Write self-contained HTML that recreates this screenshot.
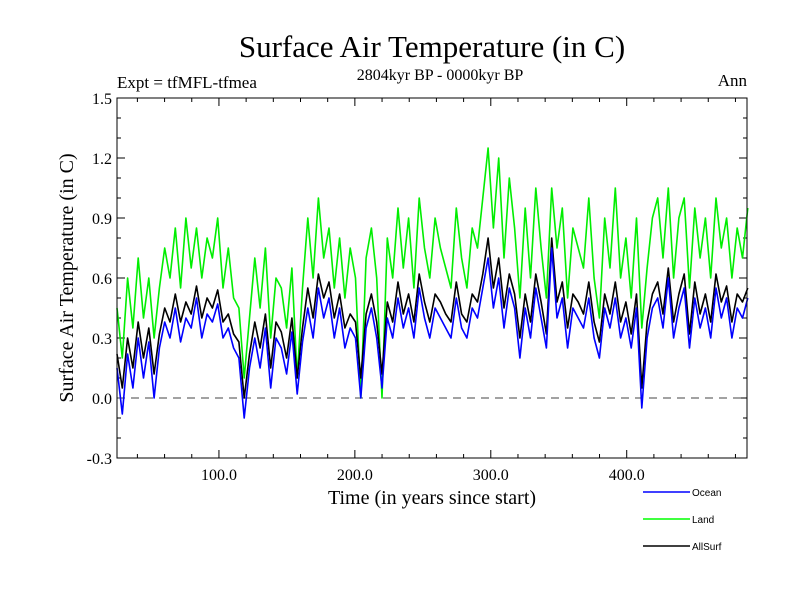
<!DOCTYPE html>
<html><head><meta charset="utf-8"><style>
body{margin:0;background:#fff}
svg text{font-family:"Liberation Serif",serif}
</style></head><body>
<svg width="800" height="600">
<text x="432" y="57" font-size="31" text-anchor="middle">Surface Air Temperature (in C)</text>
<text x="440" y="80" font-size="16" text-anchor="middle">2804kyr BP - 0000kyr BP</text>
<text x="117" y="88" font-size="17">Expt = tfMFL-tfmea</text>
<text x="747" y="86" font-size="17" text-anchor="end">Ann</text>
<text transform="translate(73,278) rotate(-90)" font-size="20" text-anchor="middle">Surface Air Temperature (in C)</text>
<text x="432" y="504" font-size="20" text-anchor="middle">Time (in years since start)</text>
<g id="ticks"></g>
<g id="series"></g>
<rect x="117" y="98" width="630" height="360" fill="none" stroke="#000" stroke-width="1"/>
<g font-family="Liberation Sans" font-size="10">
<line x1="643" y1="492" x2="690" y2="492" stroke="#0000ff" stroke-width="1.5"/>
<text x="692" y="496" style="font-family:'Liberation Sans',sans-serif" font-size="10">Ocean</text>
<line x1="643" y1="519" x2="690" y2="519" stroke="#00ff00" stroke-width="1.5"/>
<text x="692" y="523" style="font-family:'Liberation Sans',sans-serif" font-size="10">Land</text>
<line x1="643" y1="546" x2="690" y2="546" stroke="#000" stroke-width="1.5"/>
<text x="692" y="550" style="font-family:'Liberation Sans',sans-serif" font-size="10">AllSurf</text>
</g>
</svg>
<script>
const yTicks=[-0.3,0.0,0.3,0.6,0.9,1.2,1.5];
const yTickLabels=["-0.3","0.0","0.3","0.6","0.9","1.2","1.5"];
const xTicks=[100,200,300,400];
const xTickLabels=["100.0","200.0","300.0","400.0"];
const startYear=25, yearStep=3.9;
const ocean=[0.15,-0.08,0.22,0.05,0.3,0.1,0.28,0.0,0.25,
0.38,0.3,0.45,0.28,0.4,0.35,0.5,0.3,0.42,0.38,0.47,0.3,0.35,0.25,
0.2,-0.1,0.15,
0.3,0.15,0.35,0.05,0.3,0.25,0.12,0.33,0.02,0.28,
0.45,0.3,0.55,0.4,0.5,0.3,0.45,0.25,0.35,0.3,
0.0,0.35,0.45,0.3,0.05,
0.4,0.3,0.5,0.35,0.45,0.3,0.55,0.4,0.3,0.45,0.4,0.35,0.3,0.5,0.35,0.3,0.45,0.4,
0.55,0.7,0.45,0.6,
0.35,0.55,0.45,0.2,0.45,0.3,0.55,0.4,0.25,
0.75,
0.4,0.5,0.25,0.45,0.4,0.35,0.5,0.3,0.2,0.45,0.35,0.5,0.3,0.4,0.25,0.45,
-0.05,
0.3,0.45,0.5,0.35,0.6,0.3,0.45,0.55,0.25,0.5,0.35,0.45,0.3,0.55,0.4,0.5,0.3,0.45,0.4,0.5];
const land=[0.45,0.2,0.6,0.35,0.7,0.4,0.6,0.3,0.55,
0.75,0.6,0.85,0.55,0.9,0.65,0.85,0.6,0.8,0.7,0.9,0.55,0.75,0.5,
0.45,0.1,0.4,
0.7,0.45,0.75,0.3,0.6,0.55,0.35,0.65,0.1,0.55,
0.9,0.6,1.0,0.7,0.85,0.55,0.8,0.5,0.75,0.6,
0.0,0.7,0.85,0.6,0.0,
0.8,0.6,0.95,0.65,0.9,0.55,1.0,0.75,0.6,0.9,0.75,0.65,0.55,0.95,0.7,0.55,0.85,0.75,
1.0,1.25,0.85,1.2,
0.7,1.1,0.85,0.5,0.95,0.6,1.05,0.75,0.5,
1.05,
0.75,0.95,0.5,0.85,0.75,0.65,1.0,0.6,0.4,0.9,0.65,1.05,0.6,0.8,0.5,0.9,
0.35,
0.65,0.9,1.0,0.7,1.05,0.6,0.9,1.0,0.55,0.95,0.7,0.9,0.6,1.0,0.75,0.9,0.6,0.85,0.7,0.95];
const allSurf=[0.22,0.05,0.3,0.15,0.38,0.2,0.35,0.12,0.32,
0.45,0.38,0.52,0.38,0.48,0.42,0.56,0.4,0.5,0.45,0.54,0.38,0.42,0.32,
0.28,0.0,0.22,
0.38,0.25,0.42,0.15,0.38,0.33,0.2,0.4,0.1,0.35,
0.55,0.4,0.62,0.5,0.58,0.4,0.52,0.35,0.42,0.38,
0.1,0.42,0.52,0.38,0.12,
0.48,0.38,0.58,0.42,0.52,0.38,0.62,0.48,0.38,0.52,0.48,0.42,0.38,0.58,0.42,0.38,0.52,0.48,
0.62,0.8,0.55,0.7,
0.45,0.62,0.52,0.3,0.52,0.38,0.62,0.48,0.32,
0.8,
0.48,0.58,0.35,0.52,0.48,0.42,0.58,0.38,0.28,0.52,0.42,0.58,0.38,0.48,0.32,0.52,
0.05,
0.38,0.52,0.58,0.42,0.65,0.38,0.52,0.62,0.32,0.58,0.42,0.52,0.38,0.62,0.48,0.56,0.38,0.52,0.48,0.55];

const NS="http://www.w3.org/2000/svg";
const X0=117,X1=747,Y0=98,Y1=458,xMin=25,xMax=488.5,yMin=-0.3,yMax=1.5;
function xs(v){return X0+(v-xMin)/(xMax-xMin)*(X1-X0);}
function ys(v){return Y1-(v-yMin)/(yMax-yMin)*(Y1-Y0);}
function mk(tag,attrs,parent){const e=document.createElementNS(NS,tag);for(const k in attrs)e.setAttribute(k,attrs[k]);parent.appendChild(e);return e;}
const tg=document.getElementById('ticks');
for(let v=yMin;v<=yMax+1e-9;v+=0.1){
  const y=ys(v);const major=Math.abs(Math.round(v*10)%3)===0;const L=major?8:4;
  const t1=mk('line',{x1:X0,y1:y,x2:X0+L,y2:y,stroke:'#000'},tg);
  
  
  const t2=mk('line',{x1:X1,y1:y,x2:X1-L,y2:y,stroke:'#000'},tg);
  
  
}
yTicks.forEach((v,i)=>{
  const t=mk('text',{x:X0-5,y:ys(v)+6,'font-size':16,'text-anchor':'end'},tg);
  t.textContent=yTickLabels[i];
  
  
});
for(let v=40;v<=480;v+=20){
  const x=xs(v);const L=(v%100===0)?8:4;
  const a=mk('line',{x1:x,y1:Y1,x2:x,y2:Y1-L,stroke:'#000'},tg);
  
  
  const b=mk('line',{x1:x,y1:Y0,x2:x,y2:Y0+L,stroke:'#000'},tg);
  
  
}
xTicks.forEach((v,i)=>{
  const t=mk('text',{x:xs(v),y:480,'font-size':16,'text-anchor':'middle'},tg);
  t.textContent=xTickLabels[i];
  
  
});
const sg=document.getElementById('series');
const zl=mk('line',{x1:X0,y1:ys(0),x2:X1,y2:ys(0),stroke:'#444','stroke-dasharray':'8,6'},sg);


function draw(arr,color,name){
  const pts=arr.map((v,i)=>xs(startYear+i*yearStep).toFixed(1)+','+ys(v).toFixed(1)).join(' ');
  const p=mk('polyline',{points:pts,fill:'none',stroke:color,'stroke-width':1.6,'stroke-linejoin':'round'},sg);
  
  
}
draw(land,'#00ee00','land-line');
draw(allSurf,'#000000','allsurf-line');
draw(ocean,'#0000ff','ocean-line');
</script>
</body></html>
